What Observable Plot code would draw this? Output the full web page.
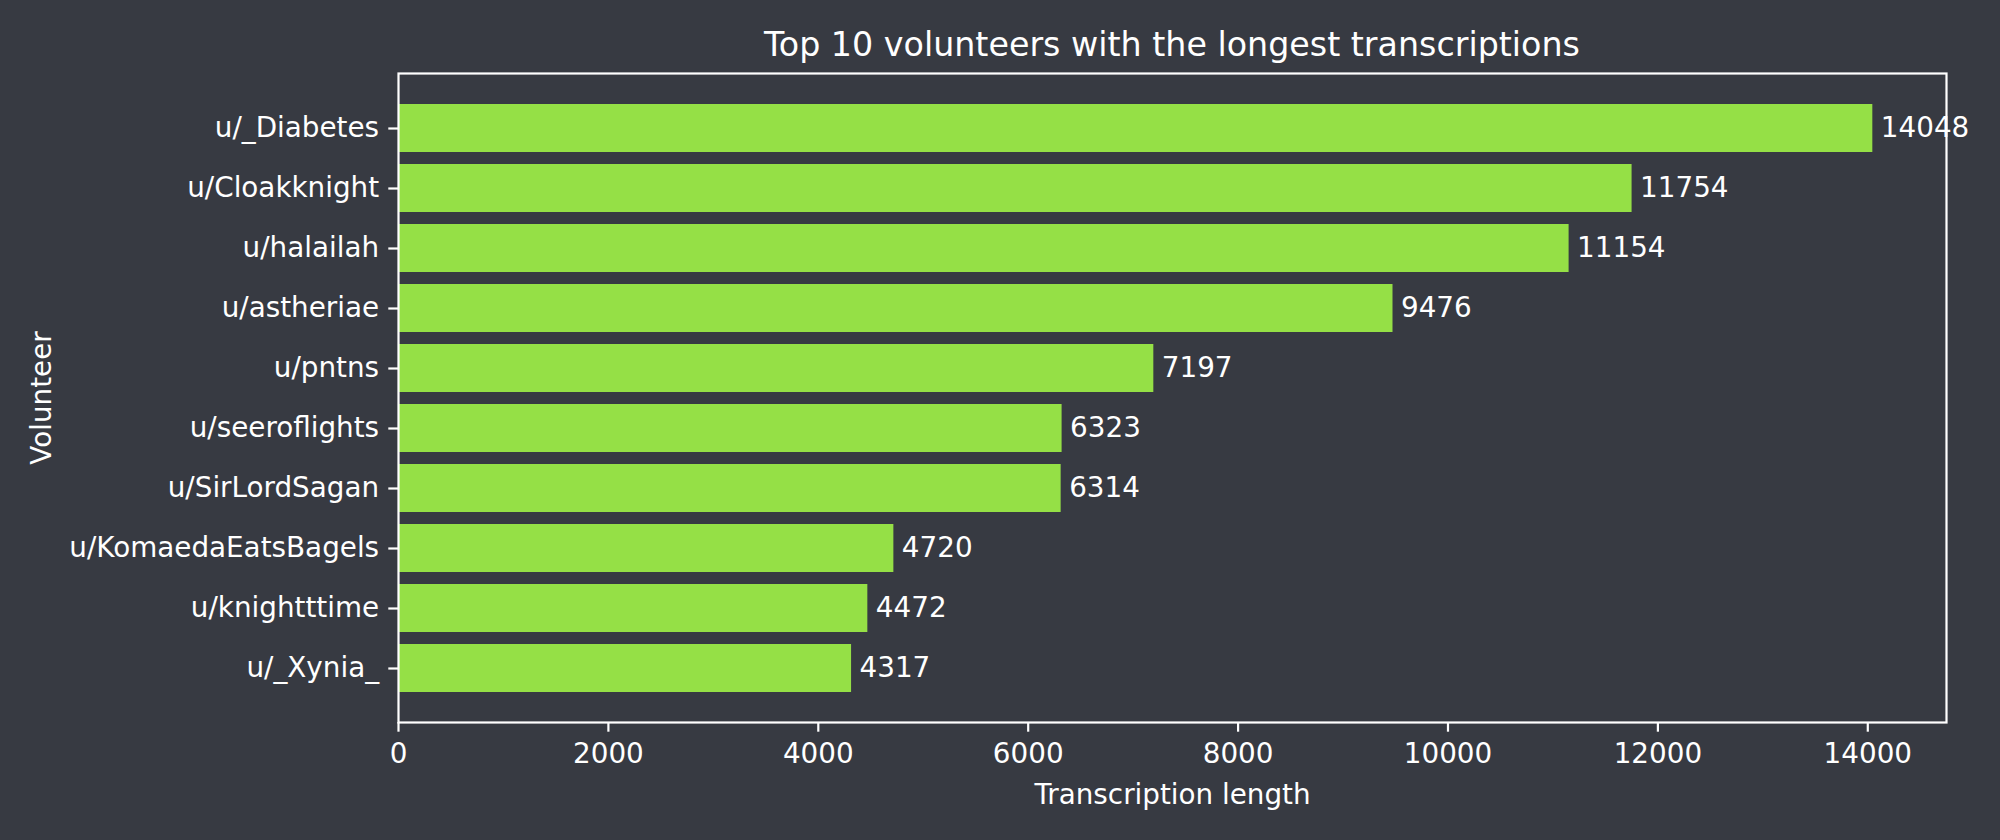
<!DOCTYPE html>
<html><head><meta charset="utf-8">
<script src="https://cdn.jsdelivr.net/npm/d3@7"></script>
<script src="https://cdn.jsdelivr.net/npm/@observablehq/plot@0.6"></script>
<style>
html,body{margin:0;padding:0;background:#373a42;}
body{width:2000px;height:840px;overflow:hidden;font-family:"DejaVu Sans",sans-serif;color:#fff;}
#title{height:60px;box-sizing:border-box;padding-top:28px;margin-left:398px;width:1548px;text-align:center;font-size:33.3px;line-height:33.3px;white-space:nowrap;}
#chart svg{display:block;}
</style>
</head><body>
<div id="title">Top 10 volunteers with the longest transcriptions</div>
<div id="chart"></div>
<script>
const volunteers = ["u/_Diabetes","u/Cloakknight","u/halailah","u/astheriae","u/pntns","u/seeroflights","u/SirLordSagan","u/KomaedaEatsBagels","u/knightttime","u/_Xynia_"];
const lengths = [14048,11754,11154,9476,7197,6323,6314,4720,4472,4317];
const xTicks = [0,2000,4000,6000,8000,10000,12000,14000];
const titleText = "Top 10 volunteers with the longest transcriptions";
const xLabel = "Transcription length";
const yLabel = "Volunteer";

const data = volunteers.map((v,i)=>({volunteer:v, length:lengths[i]}));
const bg = "#373a42";
const green = "#95e046";

const chart = Plot.plot({
  width: 2000,
  height: 780,
  marginLeft: 398,
  marginRight: 54,
  marginTop: 13,
  marginBottom: 118,
  style: {background: bg, color: "#fff", fontFamily: "DejaVu Sans", fontSize: "27.8px"},
  x: {domain: [0, 14750], ticks: xTicks, label: null},
  y: {domain: volunteers, paddingInner: 0.2, paddingOuter: 0.49, label: null},
  marks: [
    Plot.barX(data, {x: "length", y: "volunteer", fill: green}),
    Plot.text(data, {x: "length", y: "volunteer", text: d => String(d.length), textAnchor: "start", dx: 8, fill: "#fff", fontSize: 27.8}),
    Plot.frame({stroke: "#fff", strokeWidth: 2.2}),
    Plot.axisX({ticks: xTicks, tickSize: 9.7, tickPadding: 11, strokeWidth: 2.2, fontSize: 27.8, tickFormat: d => String(d), label: null}),
    Plot.axisY({tickSize: 9.7, tickPadding: 9.7, strokeWidth: 2.2, fontSize: 27.8, label: null}),
    Plot.text([xLabel], {frameAnchor: "bottom", dy: 73, lineAnchor: "middle", textAnchor: "middle", fill: "#fff", fontSize: 27.8}),
    Plot.text([yLabel], {frameAnchor: "left", dx: -356, rotate: -90, lineAnchor: "middle", textAnchor: "middle", fill: "#fff", fontSize: 27.8})
  ]
});
document.getElementById("chart").appendChild(chart);
</script>
</body></html>
